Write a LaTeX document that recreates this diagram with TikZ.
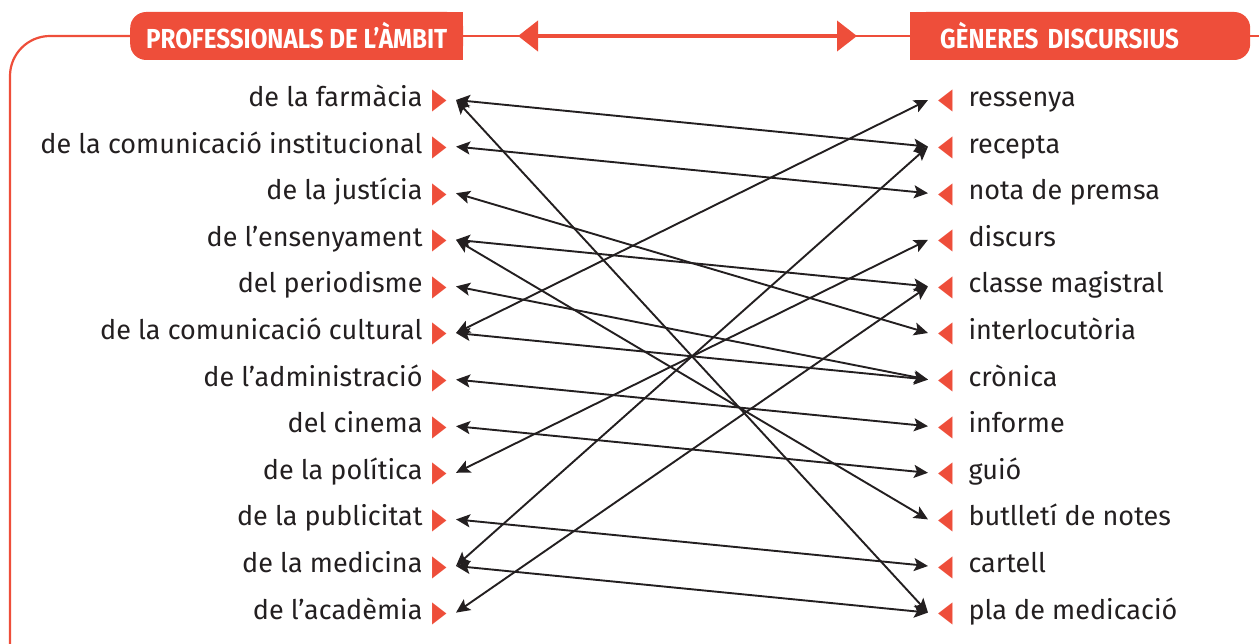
\documentclass[tikz,border=0pt]{standalone}
\usepackage{fontspec}
\setmainfont{Fira Sans}
\newfontfamily\symfont{DejaVu Sans}
\newfontfamily\headfont[FakeStretch=0.88]{Fira Sans}
\usetikzlibrary{positioning, arrows.meta, backgrounds}
\definecolor{accent}{RGB}{238,78,58}
\definecolor{ink}{RGB}{35,31,32}
\newcommand{\lmark}{{\color{accent}\symfont\fontsize{29}{29}\selectfont\raisebox{-2.5pt}{\scalebox{0.65}[1]{▶}}}}
\newcommand{\rmark}{{\color{accent}\symfont\fontsize{29}{29}\selectfont\raisebox{-2.5pt}{\scalebox{0.65}[1]{◀}}}}

\tikzset{
  leftitem/.style={anchor=east, inner xsep=0pt, inner ysep=0pt, outer xsep=9pt,
    text height=19pt, text depth=6pt, text=ink, font=\fontsize{27}{30}\selectfont},
  rightitem/.style={anchor=west, inner xsep=0pt, inner ysep=0pt, outer xsep=10pt,
    text height=19pt, text depth=6pt, text=ink, font=\fontsize{27}{30}\selectfont},
  link/.style={{Stealth[length=14pt,width=13pt,inset=3pt]}-{Stealth[length=14pt,width=13pt,inset=3pt]},
    line width=1.9pt, ink},
  headbox/.style={fill=accent, text=white, minimum height=48pt, rounded corners=16pt,
    font=\headfont\bfseries\fontsize{27.5}{30}\selectfont},
  frame/.style={accent, line width=2.2pt, rounded corners=40pt}
}

\begin{document}
\begin{tikzpicture}[x=1pt, y=-1pt, node distance=46.6pt]
\useasboundingbox (0,0) rectangle (1259,644);

% headers
\node (hl) [headbox, anchor=west, inner xsep=10pt, minimum width=333pt] at (130,36) {PROFESSIONALS DE L’ÀMBIT};
\node (hr) [headbox, anchor=west, inner xsep=30pt, text width=280pt, align=left] at (910,36) {GÈNERES DISCURSIUS};
\begin{scope}[on background layer]
\fill[accent] (hl.north) rectangle (hl.south east);
\fill[accent] (hr.north west) rectangle (hr.south);
\end{scope}
\draw[frame] (hl.west) -- (10,36) -- (10,644);
\draw[frame] (hr.east) -- (1259,36);

\coordinate (ta) at (518,36);
\coordinate (tb) at (857,36);
\draw[accent, line width=1.8pt] (hl.east) -- (hr.west);
\draw[accent, line width=4pt, {Triangle[length=20pt,width=30pt]}-{Triangle[length=20pt,width=30pt]}] (ta) -- (tb);

% left column
\node (l1) [leftitem] at (456,100) {de la farmàcia\hspace{10pt}\lmark};
\node (l2) [below=of l1.east, leftitem] {de la comunicació institucional\hspace{10pt}\lmark};
\node (l3) [below=of l2.east, leftitem] {de la justícia\hspace{10pt}\lmark};
\node (l4) [below=of l3.east, leftitem] {de l’ensenyament\hspace{10pt}\lmark};
\node (l5) [below=of l4.east, leftitem] {del periodisme\hspace{10pt}\lmark};
\node (l6) [below=of l5.east, leftitem] {de la comunicació cultural\hspace{10pt}\lmark};
\node (l7) [below=of l6.east, leftitem] {de l’administració\hspace{10pt}\lmark};
\node (l8) [below=of l7.east, leftitem] {del cinema\hspace{10pt}\lmark};
\node (l9) [below=of l8.east, leftitem] {de la política\hspace{10pt}\lmark};
\node (l10) [below=of l9.east, leftitem] {de la publicitat\hspace{10pt}\lmark};
\node (l11) [below=of l10.east, leftitem] {de la medicina\hspace{10pt}\lmark};
\node (l12) [below=of l11.east, leftitem] {de l’acadèmia\hspace{10pt}\lmark};

% right column
\node (r1) [rightitem] at (928,100) {\rmark\hspace{16pt}ressenya};
\node (r2) [below=of r1.west, rightitem] {\rmark\hspace{16pt}recepta};
\node (r3) [below=of r2.west, rightitem] {\rmark\hspace{16pt}nota de premsa};
\node (r4) [below=of r3.west, rightitem] {\rmark\hspace{16pt}discurs};
\node (r5) [below=of r4.west, rightitem] {\rmark\hspace{16pt}classe magistral};
\node (r6) [below=of r5.west, rightitem] {\rmark\hspace{16pt}interlocutòria};
\node (r7) [below=of r6.west, rightitem] {\rmark\hspace{16pt}crònica};
\node (r8) [below=of r7.west, rightitem] {\rmark\hspace{16pt}informe};
\node (r9) [below=of r8.west, rightitem] {\rmark\hspace{16pt}guió};
\node (r10) [below=of r9.west, rightitem] {\rmark\hspace{16pt}butlletí de notes};
\node (r11) [below=of r10.west, rightitem] {\rmark\hspace{16pt}cartell};
\node (r12) [below=of r11.west, rightitem] {\rmark\hspace{16pt}pla de medicació};

% links
\draw[link] (l1.east) -- (r2.west);
\draw[link] (l1.east) -- (r12.west);
\draw[link] (l2.east) -- (r3.west);
\draw[link] (l3.east) -- (r6.west);
\draw[link] (l4.east) -- (r5.west);
\draw[link] (l4.east) -- (r10.west);
\draw[link] (l5.east) -- (r7.west);
\draw[link] (l6.east) -- (r1.west);
\draw[link] (l6.east) -- (r7.west);
\draw[link] (l7.east) -- (r8.west);
\draw[link] (l8.east) -- (r9.west);
\draw[link] (l9.east) -- (r4.west);
\draw[link] (l10.east) -- (r11.west);
\draw[link] (l11.east) -- (r2.west);
\draw[link] (l11.east) -- (r12.west);
\draw[link] (l12.east) -- (r5.west);
\end{tikzpicture}
\end{document}
